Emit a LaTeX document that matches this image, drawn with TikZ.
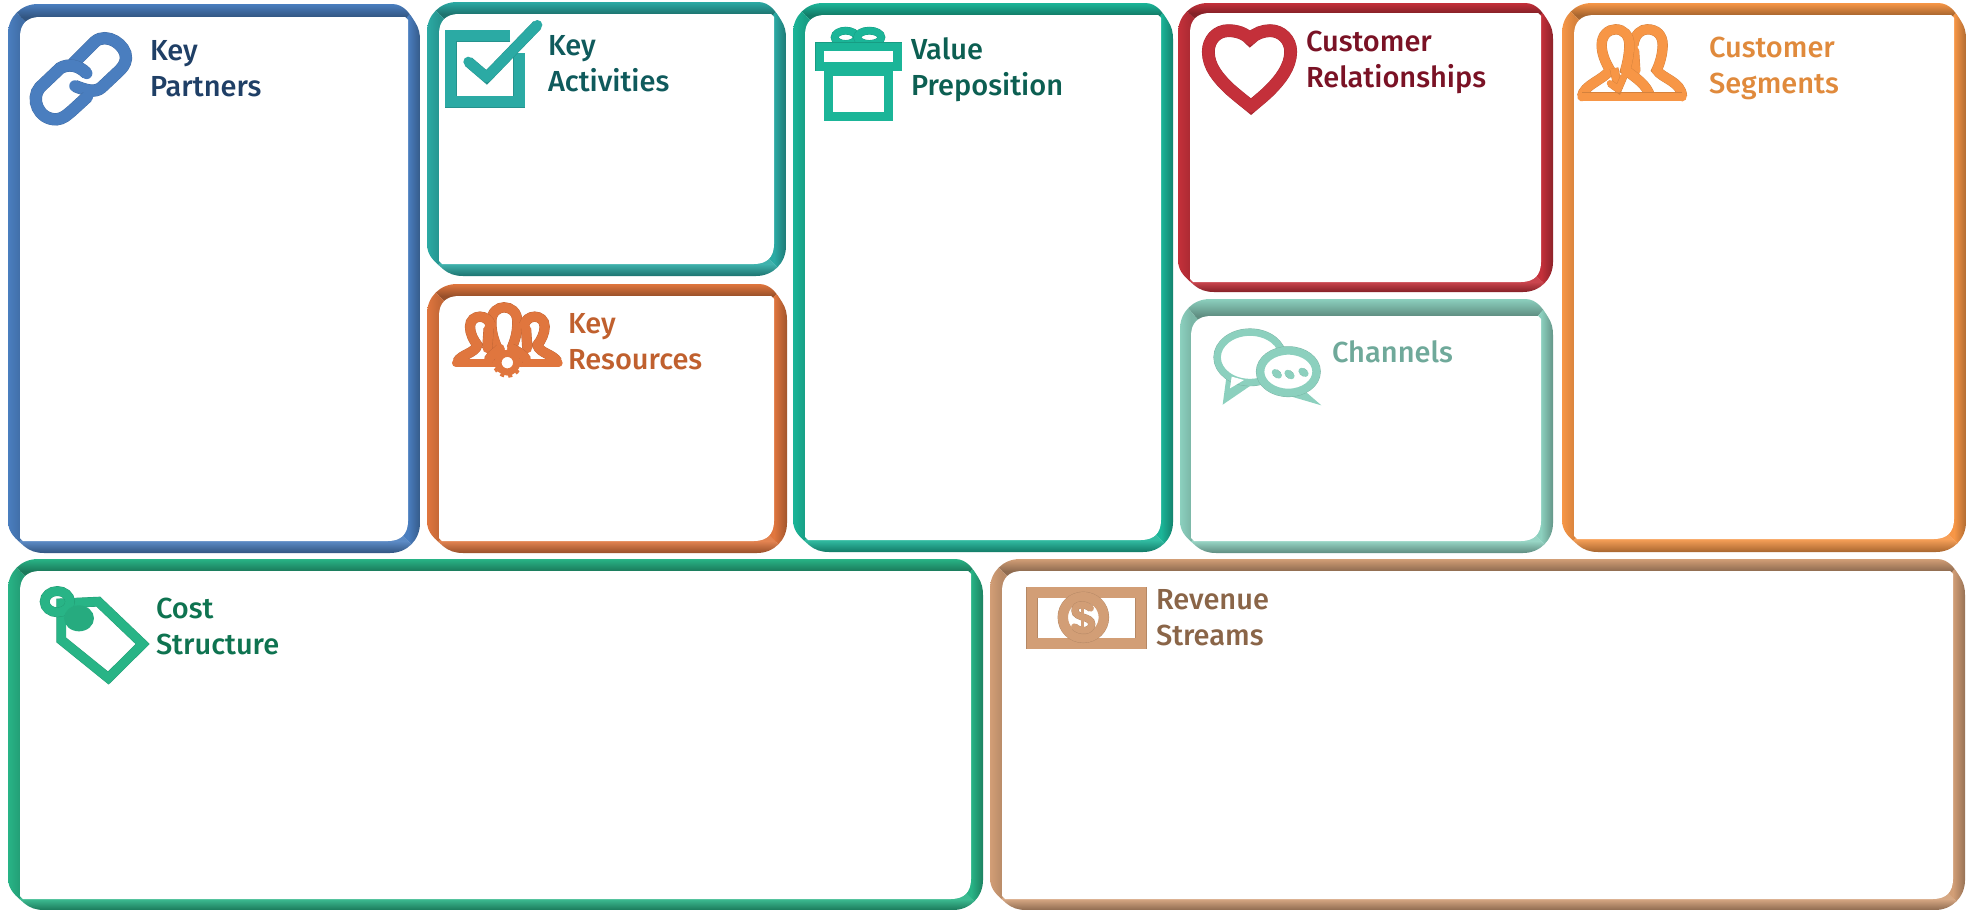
\documentclass[tikz,border=0pt]{standalone}
\usepackage{fontspec}
\setmainfont{Fira Sans Medium}
\definecolor{cblue}{HTML}{4A7EBF}
\definecolor{cteal}{HTML}{2BAAA4}
\definecolor{corange}{HTML}{E0763E}
\definecolor{cgreen}{HTML}{1BB598}
\definecolor{cred}{HTML}{C4303A}
\definecolor{cmint}{HTML}{8CD0BE}
\definecolor{camber}{HTML}{F79646}
\definecolor{cemer}{HTML}{28B486}
\definecolor{ctan}{HTML}{D29E76}
\definecolor{tblue}{HTML}{1F3F66}
\definecolor{tteal}{HTML}{0F5A5C}
\definecolor{torange}{HTML}{C0602E}
\definecolor{tgreen}{HTML}{0C5F52}
\definecolor{tred}{HTML}{7A1225}
\definecolor{tamber}{HTML}{E08A3C}
\definecolor{tmint}{HTML}{6FA99A}
\definecolor{temer}{HTML}{0E7350}
\definecolor{ttan}{HTML}{8A6548}
\tikzset{
  lbl/.style={anchor=base west,inner sep=0pt,outer sep=0pt,align=left,font=\fontsize{29}{35.5}\selectfont},
  bev/.style 2 args={preaction={draw=#1!86!black,line width=#2+0.8pt},draw=#1,line width=#2,line cap=round,line join=round},
  iconbox/.style={x=0.33333pt,y=-0.33333pt}
}
% #1 colour, #2-#5 outer l t r b, #6-#9 inner l t r b
\newcommand{\panel}[9]{%
  \begin{scope}
    \clip (#2,#3+30) .. controls (#2,#3+13) and (#2+13,#3) .. (#2+30,#3)
      -- (#4-28,#3) .. controls (#4-16,#3) and (#4-10,#3+10) .. (#4-5,#3+18)
      .. controls (#4-1,#3+24) and (#4,#3+30) .. (#4,#3+36)
      -- (#4,#5-30) .. controls (#4,#5-13) and (#4-13,#5) .. (#4-30,#5)
      -- (#2+36,#5) .. controls (#2+28,#5) and (#2+22,#5-2) .. (#2+16,#5-7)
      .. controls (#2+8,#5-14) and (#2,#5-20) .. (#2,#5-32) -- cycle;
    \begin{scope}
      \clip (#2,#3) -- (#4,#3) -- (#8-30,#7+30) -- (#6+30,#7+30) -- cycle;
      \shade[top color=#1,middle color=#1,bottom color=#1!68!black] (#2,#3) rectangle (#4,#7);
      \fill[#1!68!black] (#2,#7) rectangle (#4,#7+30);
    \end{scope}
    \begin{scope}
      \clip (#2,#5) -- (#4,#5) -- (#8-30,#9-30) -- (#6+30,#9-30) -- cycle;
      \shade[top color=#1!90!white,middle color=#1,bottom color=#1!68!black] (#2,#9) rectangle (#4,#5);
      \fill[#1!90!white] (#2,#9-30) rectangle (#4,#9);
    \end{scope}
    \begin{scope}
      \clip (#2,#3) -- (#6+30,#7+30) -- (#6+30,#9-30) -- (#2,#5) -- cycle;
      \shade[left color=#1,middle color=#1,right color=#1!88!black] (#2,#3) rectangle (#6,#5);
      \fill[#1!88!black] (#6,#3) rectangle (#6+30,#5);
    \end{scope}
    \begin{scope}
      \clip (#4,#3) -- (#8-30,#7+30) -- (#8-30,#9-30) -- (#4,#5) -- cycle;
      \shade[left color=#1,middle color=#1,right color=#1!72!black] (#8,#3) rectangle (#4,#5);
      \fill[#1] (#8-30,#3) rectangle (#8,#5);
    \end{scope}
  \end{scope}
  \fill[white] (#6,#7+20) .. controls (#6,#7+7) and (#6+7,#7) .. (#6+20,#7)
     -- (#8-3,#7) -- (#8,#7+3) -- (#8,#9-20) .. controls (#8,#9-7) and (#8-7,#9) .. (#8-20,#9)
     -- (#6+3,#9) -- (#6,#9-3) -- cycle;
}
\begin{document}
\begin{tikzpicture}[x=1pt,y=-1pt]
\useasboundingbox (0,0) rectangle (1973,910);
\fill[white] (0,0) rectangle (1973,910);

\panel{cblue}{8}{4}{420}{553}{20}{17}{408}{541}
\panel{cteal}{427}{2}{786}{276}{439}{14}{774}{264}
\panel{corange}{427}{284}{787}{553}{439}{296}{774}{541}
\panel{cgreen}{793}{3}{1173}{552}{805}{15}{1161}{540}
\panel{cred}{1178}{3}{1553}{292}{1190}{13}{1541}{282}
\panel{cmint}{1180}{299}{1553}{553}{1191}{316}{1541}{541}
\panel{camber}{1562}{3}{1966}{552}{1574}{15}{1954}{539}
\panel{cemer}{8}{559}{983}{910}{20}{571}{971}{899}
\panel{ctan}{990}{559}{1965}{910}{1002}{571}{1953}{899}

% Key Partners: link
\begin{scope}[iconbox]
  \draw[bev={cblue}{11.5pt}] (220,190) -- (285,125) .. controls (320,95) and (380,135) .. (378,175) .. controls (376,195) and (365,205) .. (355,215) -- (305,262) .. controls (285,280) and (255,270) .. (225,258);
  \draw[bev={cblue}{11.5pt}] (260,220) .. controls (235,195) and (205,190) .. (180,205) -- (120,262) .. controls (90,295) and (115,360) .. (170,358) .. controls (190,356) and (200,345) .. (215,333) -- (262,290);
\end{scope}

% Key Activities: check box
\begin{scope}[shift={(420,0)},iconbox]
  \draw[bev={cteal}{11pt},line cap=butt,line join=miter] (270,107) -- (92,107) -- (92,305) -- (297,305) -- (297,160);
  \draw[bev={cteal}{10pt}] (145,185) -- (200,232) -- (352,75);
\end{scope}

% Key Resources: people and gear
\begin{scope}[shift={(420,0)},iconbox]
  \draw[bev={corange}{9.5pt}] (232,1045) .. controls (222,1020) and (214,1000) .. (214,965) .. controls (214,935) and (235,922) .. (252,922) .. controls (272,922) and (292,935) .. (292,965) .. controls (292,1000) and (285,1020) .. (275,1045);
  \draw[bev={corange}{9.5pt}] (112,1085) .. controls (125,1062) and (165,1060) .. (172,1035) .. controls (160,1020) and (150,1000) .. (150,980) .. controls (150,960) and (165,950) .. (180,950) .. controls (195,950) and (208,960) .. (212,975);
  \draw[bev={corange}{9.5pt}] (412,1085) .. controls (399,1062) and (359,1060) .. (352,1035) .. controls (364,1020) and (374,1000) .. (374,980) .. controls (374,960) and (359,950) .. (344,950) .. controls (329,950) and (316,960) .. (312,975);
  \draw[bev={corange}{9.5pt}] (206,985) -- (202,1045);
  \draw[bev={corange}{9.5pt}] (318,985) -- (322,1045);
  \draw[bev={corange}{8pt}] (108,1089) -- (225,1089);
  \draw[bev={corange}{8pt}] (300,1089) -- (416,1089);
  \draw[bev={corange}{9pt}] (205,1080) .. controls (215,1062) and (232,1055) .. (240,1045);
  \draw[bev={corange}{9pt}] (320,1080) .. controls (310,1062) and (295,1055) .. (275,1045);
  \fill[white] (262,1088) circle [radius=18];
  \draw[draw=corange,line width=7pt] (262,1088) circle [radius=28];
  \draw[draw=corange,line width=3.5pt,dash pattern=on 4pt off 4pt] (262,1088) circle [radius=40];
\end{scope}

% Value Preposition: gift
\begin{scope}[shift={(780,0)},iconbox]
  \draw[bev={cgreen}{7pt}] (197,112) ellipse [x radius=33,y radius=20];
  \draw[bev={cgreen}{7pt}] (268,112) ellipse [x radius=36,y radius=20];
  \draw[bev={cgreen}{8.5pt},fill=white,line join=miter] (146,215) rectangle (326,349);
  \draw[bev={cgreen}{8.5pt},fill=white,line join=miter] (120,141) rectangle (352,200);
\end{scope}

% Customer Relationships: heart
\begin{scope}[shift={(1170,0)},iconbox]
  \draw[bev={cred}{12pt}] (240,117) .. controls (255,100) and (280,92) .. (300,92) .. controls (335,92) and (362,120) .. (362,155) .. controls (362,200) and (330,240) .. (300,270) .. controls (280,290) and (260,305) .. (243,320) .. controls (225,305) and (205,290) .. (180,268) .. controls (145,235) and (115,200) .. (115,155) .. controls (115,120) and (140,92) .. (175,92) .. controls (200,92) and (225,100) .. (240,117) -- cycle;
\end{scope}

% Customer Segments: two people
\begin{scope}[shift={(1550,0)},iconbox]
  \draw[bev={camber}{9.5pt}] (250,135) .. controls (255,100) and (275,88) .. (292,88) .. controls (320,88) and (338,105) .. (338,135) .. controls (338,160) and (330,190) .. (320,210) .. controls (335,235) and (395,245) .. (396,290);
  \draw[bev={camber}{9.5pt}] (252,150) -- (256,215);
  \draw[bev={camber}{9.5pt}] (96,290) .. controls (100,255) and (160,240) .. (180,210) .. controls (165,185) and (155,160) .. (155,135) .. controls (155,105) and (175,88) .. (197,88) .. controls (220,88) and (238,105) .. (238,135) .. controls (238,160) and (232,190) .. (226,210) .. controls (260,235) and (290,255) .. (300,288);
  \draw[bev={camber}{8pt}] (96,290) -- (396,290);
  \draw[bev={camber}{8pt},line cap=butt] (192,205) -- (205,268);
  \draw[bev={camber}{6.5pt}] (180,250) -- (205,268) -- (222,228);
\end{scope}

% Channels: speech bubbles
\begin{scope}[shift={(1170,280)},iconbox]
  \fill[cmint] (170,285) -- (158,374) -- (240,318) -- cycle;
  \draw[bev={cmint}{7pt},fill=white] (240,232) ellipse [x radius=98,y radius=75];
  \fill[white] (185,290) -- (180,325) -- (222,300) -- cycle;
  \fill[cmint] (395,325) -- (454,376) -- (365,350) -- cycle;
  \draw[bev={cmint}{8pt},fill=white] (355,275) ellipse [x radius=84,y radius=63];
  \draw[bev={cmint}{6.5pt}] (315,277) -- (326,286);
  \draw[bev={cmint}{6.5pt}] (353,279) -- (364,288);
  \draw[bev={cmint}{6.5pt}] (395,273) -- (406,281);
\end{scope}

% Cost Structure: tag
\begin{scope}[shift={(0,540)},iconbox]
  \draw[bev={cemer}{9pt},line join=miter] (184,190) -- (295,185) -- (428,312) -- (325,414) -- (184,300) -- cycle;
  \draw[bev={cemer}{9pt}] (172,185) ellipse [x radius=38,y radius=32];
  \fill[cemer!95!black] (237,235) ellipse [x radius=45,y radius=39];
\end{scope}

% Revenue Streams: banknote
\begin{scope}[shift={(960,540)},iconbox]
  \draw[bev={ctan}{10.5pt},line join=miter] (216,157) rectangle (543,310);
  \draw[bev={ctan}{10pt},fill=white] (370,232) circle [radius=61];
  \draw[bev={ctan}{6.5pt}] (392,205) .. controls (375,190) and (345,190) .. (345,212) .. controls (345,235) and (395,228) .. (395,252) .. controls (395,275) and (360,278) .. (343,260);
  \draw[bev={ctan}{2.5pt}] (368,190) -- (368,276);
\end{scope}

\node[lbl,text=tblue] (kp) at (150,96) {Key\\Partners};
\node[lbl,text=tteal] (ka) at (548,91) {Key\\Activities};
\node[lbl,text=torange] (kr) at (568,369) {Key\\Resources};
\node[lbl,text=tgreen] (vp) at (911,95) {Value\\Preposition};
\node[lbl,text=tred] (crel) at (1306,87) {Customer\\Relationships};
\node[lbl,text=tamber] (cseg) at (1709,93) {Customer\\Segments};
\node[lbl,text=tmint] (chan) at (1332,362) {Channels};
\node[lbl,text=temer] (cost) at (156,654) {Cost\\Structure};
\node[lbl,text=ttan] (rev) at (1156,645) {Revenue\\Streams};
\end{tikzpicture}
\end{document}
